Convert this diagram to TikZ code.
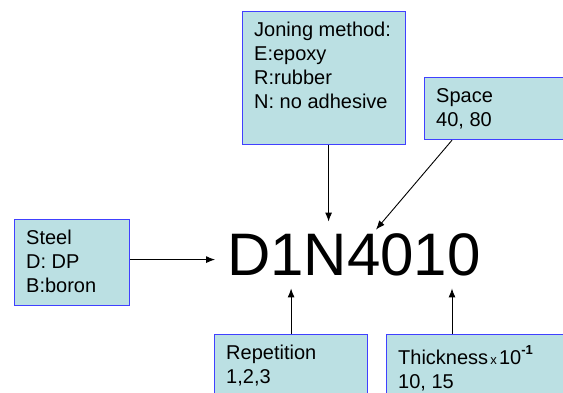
\documentclass[tikz,border=0pt]{standalone}
\usepackage{fontspec}
\setmainfont{Liberation Sans}
\usetikzlibrary{positioning,arrows.meta}
\definecolor{boxfill}{RGB}{187,224,227}
\definecolor{boxline}{RGB}{64,64,255}
\tikzset{infobox/.style={
  rectangle,
  draw=boxline,fill=boxfill,line width=1.2pt,
  inner sep=0pt,anchor=north west}}
\tikzset{infotext/.style={
  inner sep=0pt,align=left,
  font=\fontsize{20}{24}\selectfont}}
\tikzset{>={Latex[length=9pt,width=7pt]}}
\newcommand{\timesten}{{\fontsize{13}{13}\selectfont\,x\,}10\raisebox{10pt}{\fontsize{13}{13}\selectfont\bfseries -1}}

\begin{document}
\begin{tikzpicture}[x=1pt,y=-1pt]
  \useasboundingbox (0,0) rectangle (563,392);
  \clip (0,0) rectangle (563,392);
  \foreach \n/\p/\w/\h/\l in {
      join/{(242,11)}/163/133/{Joning method:\\E:epoxy\\R:rubber\\N: no adhesive},
      space/{(424,77)}/160/62/{Space\\40, 80},
      steel/{(14,219)}/115/86/{Steel\\D: DP\\B:boron},
      rep/{(214,334)}/153/80/{Repetition\\1,2,3},
      thick/{(386,334)}/200/80/{Thickness\timesten\\10, 15}}
  {
    \node[infobox,minimum width=\w pt,minimum height=\h pt] (\n-box) at \p {};
    \node[infotext,below right=11pt and 12pt of \n-box.north west] (\n-text) {\l};
  }
  \node[inner sep=12pt,font=\fontsize{60}{60}\selectfont] (code) at (354,255) {D1N4010};
  % arrow ends off the box centres
  \coordinate (joinout) at ([xshift=4.5pt]join-box.south);
  \coordinate (spaceout) at ([xshift=28pt]space-box.south west);
  \coordinate (steelout) at ([yshift=3pt]steel-box.east);
  \coordinate (thickout) at ([xshift=66pt]thick-box.north west);
  \begin{scope}[line width=0.9pt]
    \draw[->] (joinout) -- (joinout |- code.north);
    \draw[->] (spaceout) -- ([shift={(22,8)}]code.north);
    \draw[->] (steelout) -- (code.west |- steelout);
    \draw[->] (rep-box.north) -- (rep-box.north |- code.south);
    \draw[->] (thickout) -- (thickout |- code.south);
  \end{scope}
\end{tikzpicture}
\end{document}
